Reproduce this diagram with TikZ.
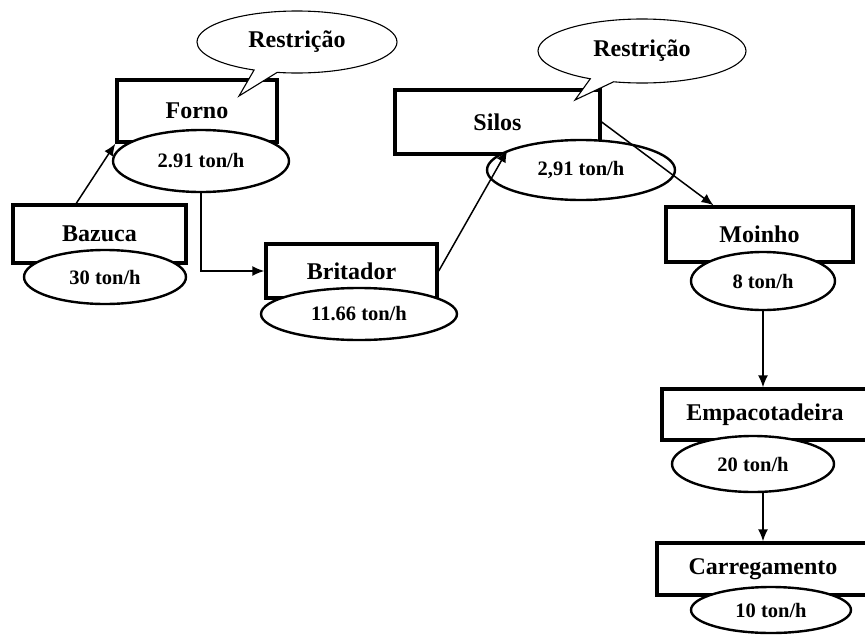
\documentclass[tikz,border=0pt]{standalone}
\usepackage{fontspec}
\setmainfont{Liberation Serif}
\usetikzlibrary{shapes.geometric,shapes.callouts,arrows.meta,calc}
\begin{document}
\begin{tikzpicture}[x=1pt,y=-1pt,
  stage/.style={draw,line width=3.4pt,rectangle,fill=white,inner sep=0pt,
    font=\fontsize{24}{28}\selectfont\bfseries},
  rate/.style={draw,line width=2.4pt,ellipse,fill=white,inner sep=0pt,
    font=\fontsize{20.5}{24}\selectfont\bfseries},
  note/.style={draw,line width=1.1pt,ellipse callout,fill=white,inner sep=0pt,
    callout pointer arc=14,font=\fontsize{24}{28}\selectfont\bfseries},
  flow/.style={line width=1.5pt,-{Latex[length=12pt,width=10pt]}}]
\useasboundingbox (0,0) rectangle (865,635);
% process boxes
\node[stage,minimum width=160pt,minimum height=62pt] (forno) at (197,111) {Forno};
\node[stage,minimum width=173pt,minimum height=58pt] (bazuca) at (99.5,234) {Bazuca};
\node[stage,minimum width=171pt,minimum height=54pt] (britador) at (351.5,271) {Britador};
\node[stage,minimum width=205pt,minimum height=64pt] (silos) at (497.5,122) {Silos};
\node[stage,minimum width=187pt,minimum height=55pt] (moinho) at (759.5,234.5) {Moinho};
\node[stage,minimum width=206pt,minimum height=51pt] (empac) at (765,414.5) {Empacotadeira};
\node[stage,minimum width=212pt,minimum height=52pt] (carreg) at (763,569) {Carregamento};
% rates
\node[rate,minimum width=176pt,minimum height=62pt] (fornoR) at (201,161) {2.91 ton/h};
\node[rate,minimum width=162pt,minimum height=54pt] (bazucaR) at (105,277) {30 ton/h};
\node[rate,minimum width=196pt,minimum height=52pt] (britadorR) at (359,314) {11.66 ton/h};
\node[rate,minimum width=188pt,minimum height=60pt] (silosR) at (581,170) {2,91 ton/h};
\node[rate,minimum width=144pt,minimum height=58pt] (moinhoR) at (763,281) {8 ton/h};
\node[rate,minimum width=162pt,minimum height=56pt] (empacR) at (753,464) {20 ton/h};
\node[rate,minimum width=160pt,minimum height=46pt] (carregR) at (771,610) {10 ton/h};
% callouts
\coordinate (tip1) at (239,96);
\coordinate (tip2) at (575,100);
\node[note,minimum width=200pt,minimum height=62pt,callout absolute pointer={(tip1)}] (rest1) at (297,42) {Restrição};
\node[note,minimum width=208pt,minimum height=64pt,callout absolute pointer={(tip2)}] (rest2) at (642,51) {Restrição};
% flows
\draw[flow] ($(bazuca.north west)+(65,0)$) -- (forno.south west);
\draw[flow] (fornoR.south) |- (britador.west);
\draw[flow] (britador.east) -- (silosR.165);
\draw[flow] (silos.east) -- ($(moinho.north)+(-46,0)$);
\draw[flow] (moinhoR.south) -- (moinhoR.south |- empac.north);
\draw[flow] (carreg.north |- empacR.south) -- (carreg.north);
\end{tikzpicture}
\end{document}
